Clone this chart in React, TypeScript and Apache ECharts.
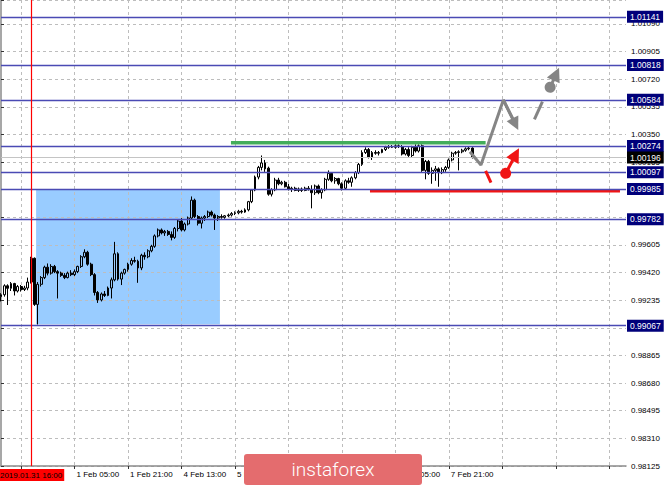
import React, { useEffect, useRef } from 'react';
import * as echarts from 'echarts';

const FONT = '"Liberation Sans", Arial, sans-serif';

// ---- candle data (H1 bars, from 2019.01.31 07:00) ----
const opens = [
  0.99262, 0.99275, 0.99335, 0.99318, 0.9935, 0.993, 0.9933, 0.9931, 0.9932, 0.9936,
  0.9952, 0.9921, 0.99345, 0.9939, 0.9946, 0.9942, 0.99465, 0.9943, 0.9942, 0.99405,
  0.9939, 0.9942, 0.9941, 0.9943, 0.99465, 0.9953, 0.9956, 0.9948, 0.9941, 0.9929,
  0.9924, 0.9928, 0.9927, 0.9932, 0.99375, 0.9955, 0.9938, 0.9942, 0.99445, 0.9948,
  0.99505, 0.995, 0.99455, 0.9954, 0.9953, 0.9957, 0.996, 0.9967, 0.9971, 0.9969,
  0.997, 0.9968, 0.9966, 0.9972, 0.9977, 0.9971, 0.9975, 0.9979, 0.9991, 0.998,
  0.99755, 0.9979, 0.998, 0.9983, 0.9981, 0.9979, 0.998, 0.99795, 0.99805, 0.9981,
  0.9982, 0.99825, 0.99835, 0.9983, 0.99845, 0.999, 0.99978, 1.00065, 1.0013, 1.0016,
  1.00125, 0.9995, 0.9998, 1.00045, 1.0002, 1.0003, 1.0, 0.99985, 0.9999, 0.99975,
  0.99985, 0.99975, 0.9999, 0.9998, 0.9996, 1.00005, 0.9996, 0.9998, 1.0005, 1.0009,
  1.0004, 1.00055, 1.0002, 0.9999, 1.0004, 1.0003, 1.0006, 1.00095, 1.0015, 1.0023,
  1.0025, 1.002, 1.0023, 1.00225, 1.0023, 1.0025, 1.00265, 1.0027, 1.00265, 1.00275,
  1.0027, 1.0022, 1.0025, 1.0021, 1.00265, 1.0024, 1.00275, 1.0011, 1.0017, 1.0009,
  1.0011, 1.0012, 1.00095, 1.00115, 1.0013, 1.0018, 1.00225, 1.0023, 1.00235, 1.00245,
  1.00255, 1.0026,
];
const highs = [
  0.99285, 0.99345, 0.99345, 0.9936, 0.99355, 0.9934, 0.9934, 0.99335, 0.9939, 0.9953,
  0.99525, 0.9936, 0.994, 0.9947, 0.99485, 0.9948, 0.99475, 0.9944, 0.9943, 0.9942,
  0.9943, 0.9944, 0.99445, 0.9947, 0.9954, 0.9958, 0.9957, 0.9949, 0.9942, 0.993,
  0.9929, 0.993, 0.9933, 0.9939, 0.9963, 0.9956, 0.9943, 0.9945, 0.9949, 0.9952,
  0.9953, 0.9951, 0.9955, 0.9956, 0.9958, 0.9961, 0.9968, 0.9972, 0.9972, 0.9971,
  0.9971, 0.997, 0.9973, 0.9978, 0.9979, 0.9976, 0.998, 0.99935, 0.9992, 0.9981,
  0.998, 0.9981, 0.9984, 0.9984, 0.9982, 0.9981, 0.99815, 0.9981, 0.9982, 0.9983,
  0.99835, 0.99845, 0.99845, 0.99855, 0.99905, 0.99985, 1.00075, 1.0014, 1.0021, 1.0018,
  1.00135, 0.9999, 1.0006, 1.0006, 1.0004, 1.0004, 1.0002, 1.0, 1.0, 0.99995,
  0.99995, 1.0, 1.00005, 1.0001, 1.00015, 1.00015, 0.9999, 1.0006, 1.0011, 1.00095,
  1.00065, 1.0006, 1.0003, 1.0005, 1.0006, 1.0007, 1.00105, 1.0016, 1.00245, 1.00265,
  1.0026, 1.0024, 1.00245, 1.0024, 1.00255, 1.00275, 1.0028, 1.0028, 1.00285, 1.00285,
  1.0028, 1.0026, 1.00265, 1.00275, 1.00285, 1.00285, 1.00285, 1.0018, 1.0018, 1.0013,
  1.0014, 1.0013, 1.0013, 1.0014, 1.0019, 1.00235, 1.0024, 1.00245, 1.00255, 1.00265,
  1.0027, 1.00265,
];
const lows = [
  0.9923, 0.99262, 0.99206, 0.993, 0.9927, 0.9929, 0.99296, 0.993, 0.99305, 0.9935,
  0.992, 0.99075, 0.9933, 0.9938, 0.99405, 0.9941, 0.9942, 0.9925, 0.99395, 0.9938,
  0.99385, 0.994, 0.994, 0.9942, 0.99455, 0.9952, 0.9947, 0.994, 0.9927, 0.9922,
  0.9923, 0.9926, 0.99265, 0.9925, 0.99365, 0.9937, 0.9934, 0.9941, 0.9943, 0.9947,
  0.9949, 0.99355, 0.9944, 0.9951, 0.9952, 0.9956, 0.9959, 0.9966, 0.9968, 0.9967,
  0.9967, 0.9964, 0.9965, 0.997, 0.997, 0.997, 0.9974, 0.9978, 0.9979, 0.9974,
  0.9972, 0.9977, 0.9979, 0.998, 0.9971, 0.9977, 0.99785, 0.99785, 0.99795, 0.998,
  0.9981, 0.99815, 0.9982, 0.99825, 0.99835, 0.9989, 0.9997, 1.0005, 1.0011, 1.001,
  0.9994, 0.99935, 0.9997, 1.0001, 1.0001, 0.99995, 0.99975, 0.99965, 0.9997, 0.99965,
  0.99965, 0.9997, 0.99975, 0.99855, 0.99945, 0.9995, 0.9992, 0.9997, 1.0004, 1.0003,
  1.0002, 1.0001, 0.99975, 0.99985, 1.0002, 1.0, 1.0005, 1.00085, 1.0014, 1.0022,
  1.0019, 1.0018, 1.00215, 1.0021, 1.00225, 1.0024, 1.00255, 1.0026, 1.00255, 1.0026,
  1.0021, 1.0021, 1.002, 1.002, 1.0023, 1.0023, 1.001, 1.0005, 1.0008, 1.0002,
  1.0004, 1.0, 1.00085, 1.001, 1.0012, 1.0017, 1.00215, 1.0011, 1.00225, 1.00235,
  1.00245, 1.0019,
];
const closes = [
  0.99275, 0.99335, 0.99318, 0.9935, 0.993, 0.9933, 0.9931, 0.9932, 0.9936, 0.9952,
  0.9921, 0.99345, 0.9939, 0.9946, 0.9942, 0.99465, 0.9943, 0.9942, 0.99405, 0.9939,
  0.9942, 0.9941, 0.9943, 0.99465, 0.9953, 0.9956, 0.9948, 0.9941, 0.9929, 0.9924,
  0.9928, 0.9927, 0.9932, 0.99375, 0.9955, 0.9938, 0.9942, 0.99445, 0.9948, 0.99505,
  0.995, 0.99455, 0.9954, 0.9953, 0.9957, 0.996, 0.9967, 0.9971, 0.9969, 0.997,
  0.9968, 0.9966, 0.9972, 0.9977, 0.9971, 0.9975, 0.9979, 0.9991, 0.998, 0.99755,
  0.9979, 0.998, 0.9983, 0.9981, 0.9979, 0.998, 0.99795, 0.99805, 0.9981, 0.9982,
  0.99825, 0.99835, 0.9983, 0.99845, 0.999, 0.99978, 1.00065, 1.0013, 1.0016, 1.0012,
  0.9995, 0.9998, 1.00045, 1.0002, 1.0003, 1.0, 0.99985, 0.9999, 0.99975, 0.99985,
  0.99975, 0.9999, 0.9998, 0.9996, 1.00005, 0.9996, 0.9998, 1.0005, 1.0009, 1.0004,
  1.00055, 1.0002, 0.9999, 1.0004, 1.0003, 1.0006, 1.00095, 1.0015, 1.0023, 1.0025,
  1.002, 1.0023, 1.00225, 1.0023, 1.0025, 1.00265, 1.0027, 1.00265, 1.00275, 1.0027,
  1.0022, 1.0025, 1.0021, 1.00265, 1.0024, 1.00275, 1.0011, 1.0017, 1.0009, 1.0011,
  1.0012, 1.00095, 1.00115, 1.0013, 1.0018, 1.00225, 1.0023, 1.00235, 1.00245, 1.00255,
  1.0026, 1.00196,
];

// ---- axes ----
const BAR_COUNT = 188; // visible bar slots, incl. empty future area
// labels hidden under the banner / marker box in the reference are left empty
const xTickLabels = ['', '1 Feb 05:00', '1 Feb 21:00', '4 Feb 13:00', '5 Feb 05:00', '', '', '7 Feb 05:00', '7 Feb 21:00'];
const X_FIRST_TICK = 6;
const X_TICK_EVERY = 16;
// labels hidden under the level price boxes are left empty
const yTickLabels = [
  '0.98125', '0.98310', '0.98495', '0.98680', '0.98865', '', '0.99235', '0.99420', '0.99605',
  '', '', '1.00165', '1.00350', '1.00535', '1.00720', '1.00905', '1.01090',
];
const Y_MIN = 0.98125;
const Y_STEP = 0.98125 / 529;
const Y_MAX = 1.01254;

// ---- levels & drawings (bar index, price) ----
const levelPrices = [1.01141, 1.00818, 1.00584, 1.00274, 1.00097, 0.99985, 0.99782, 0.99067];
const currentPrice = 1.00196;
const markerBar = 9;
const markerLabel = '2019.01.31 16:00';
const resistanceLine = [[68.8, 1.00296], [145, 1.00296]];
const supportLine = [[110.4, 0.99972], [185.2, 0.99972]];
const rangeBox = [[10.5, 0.99978], [65.5, 0.99076]];
const grayPath = [[140.3, 1.00235], [143.6, 1.00146], [150.3, 1.00583], [153.9, 1.0042]];
const grayDash = [[159.6, 1.00453], [162.0, 1.00571]];
const grayArrow = [[164.3, 1.00668], [166.1, 1.00757]];
const redDash = [[145.0, 1.00106], [146.6, 1.00027]];
const redArrow = [[151.0, 1.0009], [154.0, 1.00217]];

const GRAY = '#858585';
const RED = '#f01515';

const tickInterval = (index: number) => index >= X_FIRST_TICK && (index - X_FIRST_TICK) % X_TICK_EVERY === 0;

const seg = (pts: number[][], fromSym = 'none', toSym = 'none', fromSize = 0, toSize = 0) => [
  { coord: pts[0], symbol: fromSym, symbolSize: fromSize },
  { coord: pts[1], symbol: toSym, symbolSize: toSize },
];

function buildOption() {
  const categories = Array.from({ length: BAR_COUNT }, (_, i) => String(i));
  const candles = opens.map((o, i) => [o, closes[i], lows[i], highs[i]]);
  return {
    animation: false,
    backgroundColor: '#ffffff',
    textStyle: { fontFamily: FONT },
    grid: { left: 1, right: 39, top: 0, bottom: 19, containLabel: false, outerBoundsMode: 'none' },
    xAxis: [
      {
        type: 'category',
        data: categories,
        boundaryGap: false,
        z: 1.5,
        axisLine: { show: true, lineStyle: { color: '#8a8a8a', width: 1.5 } },
        axisTick: { show: true, interval: tickInterval, length: 3, lineStyle: { color: '#333' } },
        axisLabel: {
          show: true,
          interval: tickInterval,
          formatter: (_v: string, i: number) => xTickLabels[(i - X_FIRST_TICK) / X_TICK_EVERY] ?? '',
          align: 'left',
          margin: 4,
          fontSize: 8,
          color: '#000',
          fontFamily: FONT,
          padding: [0, 0, 0, 2],
        },
        splitLine: { show: true, interval: tickInterval, lineStyle: { type: [3, 3], color: '#bdbdbd', width: 1 } },
      },
      { type: 'value', min: 0, max: BAR_COUNT - 1, show: false },
    ],
    yAxis: {
      type: 'value',
      position: 'right',
      min: Y_MIN,
      max: Y_MAX,
      interval: Y_STEP,
      z: 1.5,
      axisLine: { show: true, lineStyle: { color: '#8a8a8a', width: 1.5 } },
      axisTick: { show: true, length: 3, lineStyle: { color: '#333' } },
      axisLabel: {
        show: true,
        margin: 5,
        fontSize: 8,
        color: '#000',
        fontFamily: FONT,
        formatter: (v: number) => yTickLabels[Math.round((v - Y_MIN) / Y_STEP)] ?? '',
      },
      splitLine: { show: true, lineStyle: { type: [3, 3], color: '#bdbdbd', width: 1 } },
    },
    series: [
      {
        type: 'candlestick',
        xAxisIndex: 0,
        yAxisIndex: 0,
        data: candles,
        barWidth: 2.4,
        silent: true,
        itemStyle: { color: 'rgba(255,255,255,0)', color0: '#000', borderColor: '#000', borderColor0: '#000', borderWidth: 1 },
        markLine: {
          silent: true,
          symbol: 'none',
          precision: 5,
          z: 5,
          lineStyle: { color: '#4a4ab4', width: 1.4, type: 'solid' },
          label: {
            show: true,
            position: 'end',
            distance: 1,
            color: '#fff',
            backgroundColor: '#00007a',
            padding: [2, 3, 1, 3],
            fontSize: 8.5,
            fontFamily: FONT,
          },
          data: [
            ...levelPrices.map((v) => ({ yAxis: v, label: { formatter: v.toFixed(5) } })),
            {
              yAxis: currentPrice,
              lineStyle: { color: '#c4c4c4', width: 1, type: 'solid' },
              label: { formatter: currentPrice.toFixed(5), backgroundColor: '#000' },
            },
          ],
        },
      },
      {
        type: 'line',
        xAxisIndex: 1,
        yAxisIndex: 0,
        data: resistanceLine,
        showSymbol: false,
        symbol: 'none',
        silent: true,
        z: 4,
        lineStyle: { color: '#43ad5a', width: 3.5 },
        markArea: {
          silent: true,
          z: 1,
          itemStyle: { color: '#99ccff', opacity: 1 },
          data: [[{ coord: rangeBox[0] }, { coord: rangeBox[1] }]],
        },
      },
      {
        type: 'line',
        xAxisIndex: 1,
        yAxisIndex: 0,
        data: supportLine,
        showSymbol: false,
        symbol: 'none',
        silent: true,
        z: 4,
        color: '#ff0000',
        lineStyle: { color: RED, width: 3 },
        markLine: {
          silent: true,
          symbol: 'none',
          z: 5,
          itemStyle: { color: '#ff0000' },
          lineStyle: { color: '#ff0000', width: 1.2, type: 'solid', opacity: 1 },
          label: {
            show: true,
            position: 'start',
            distance: 3,
            formatter: markerLabel,
            color: '#000',
            backgroundColor: '#ff0000',
            padding: [2, 2, 2, 2],
            fontSize: 8,
            fontFamily: FONT,
          },
          data: [{ xAxis: markerBar, lineStyle: { color: '#ff0000', width: 1.2, type: 'solid' } }],
        },
      },
      {
        type: 'line',
        xAxisIndex: 1,
        yAxisIndex: 0,
        data: grayPath,
        showSymbol: false,
        symbol: 'none',
        silent: true,
        z: 6,
        lineStyle: { color: GRAY, width: 3 },
        markLine: {
          silent: true,
          z: 6,
          precision: 5,
          label: { show: false },
          lineStyle: { color: GRAY, width: 3, type: 'solid' },
          itemStyle: { color: GRAY },
          data: [
            seg([grayPath[2], grayPath[3]], 'none', 'triangle', 0, 13),
            seg(grayDash),
            seg(grayArrow, 'circle', 'triangle', 11, 14),
          ],
        },
      },
      {
        type: 'line',
        xAxisIndex: 1,
        yAxisIndex: 0,
        data: redDash,
        showSymbol: false,
        symbol: 'none',
        silent: true,
        z: 6,
        lineStyle: { color: RED, width: 3 },
        markLine: {
          silent: true,
          z: 6,
          precision: 5,
          label: { show: false },
          lineStyle: { color: RED, width: 3, type: 'solid' },
          itemStyle: { color: RED },
          data: [seg(redArrow, 'circle', 'triangle', 11, 14)],
        },
      },
    ],
    graphic: [
      {
        type: 'rect',
        x: 244,
        y: 454,
        z: 100,
        shape: { width: 178, height: 31, r: 3 },
        style: { fill: '#e46c6e' },
      },
      {
        type: 'text',
        x: 333,
        y: 469,
        z: 101,
        style: {
          text: 'instaforex',
          fill: '#ffffff',
          fontSize: 19,
          fontWeight: 300,
          fontFamily: 'Roboto, "Open Sans", sans-serif',
          align: 'center',
          verticalAlign: 'middle',
        },
      },
    ],
  };
}

export default function App() {
  const ref = useRef<HTMLDivElement>(null);
  useEffect(() => {
    if (!ref.current) return;
    const chart = echarts.init(ref.current, null, { renderer: 'svg' });
    chart.setOption(buildOption() as any);
    return () => chart.dispose();
  }, []);
  return <div ref={ref} style={{ position: 'fixed', left: 0, top: 0, width: 665, height: 485 }} />;
}
